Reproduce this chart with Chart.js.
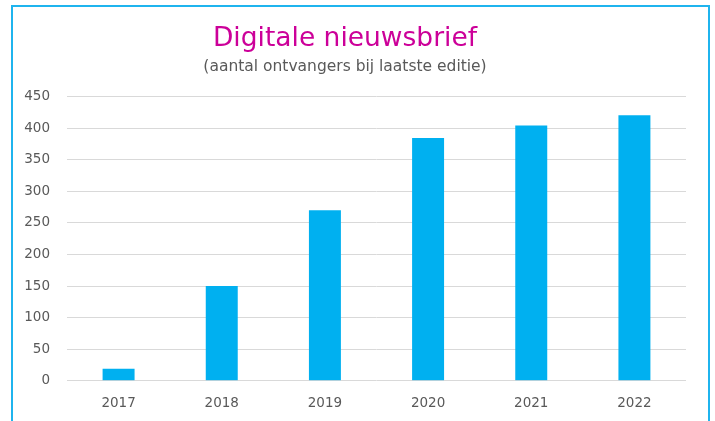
<!DOCTYPE html>
<html>
<head>
<meta charset="utf-8">
<script src="https://cdn.jsdelivr.net/npm/chart.js@4/dist/chart.umd.min.js"></script>
<style>
    body { margin: 0; background: #fff; }
    #wrap { position: relative; width: 715px; height: 421px; overflow: hidden; }
    #frame {
        position: absolute; left: 11px; top: 5px; width: 695px; height: 440px;
        border: 2px solid #1FB4EE; pointer-events: none;
    }
</style>
</head>
<body>
<div id="wrap">
    <canvas id="chart" width="715" height="421"></canvas>
    <div id="frame"></div>
</div>
<script>
/* =========================
   DATA
========================= */

const years = ["2017", "2018", "2019", "2020", "2021", "2022"];
const recipients = [19, 150, 270, 384, 404, 420];

const titleText = "Digitale nieuwsbrief";
const subtitleText = "(aantal ontvangers bij laatste editie)";

/* =========================
   CHART
========================= */

const font = "'DejaVu Sans', Verdana, sans-serif";

new Chart(document.getElementById("chart"), {
    type: "bar",
    data: {
        labels: years,
        datasets: [{
            data: recipients,
            backgroundColor: "#00B0F0",
            borderWidth: 0,
            categoryPercentage: 1,
            barPercentage: 0.31
        }]
    },
    options: {
        responsive: false,
        animation: false,
        layout: { padding: { left: 4, right: 29, top: 0, bottom: 0 } },
        plugins: {
            legend: { display: false },
            tooltip: { enabled: false },
            title: {
                display: true,
                text: titleText,
                color: "#CC0099",
                font: { family: font, size: 26.5, weight: "normal" },
                padding: { top: 23, bottom: 0 }
            },
            subtitle: {
                display: true,
                text: subtitleText,
                color: "#595959",
                font: { family: font, size: 15.5, weight: "normal" },
                padding: { top: 3, bottom: 20 }
            }
        },
        scales: {
            x: {
                grid: { display: false, drawTicks: true, tickLength: 5 },
                border: { display: false },
                ticks: {
                    color: "#595959",
                    font: { family: font, size: 13.5 },
                    padding: 9.5
                }
            },
            y: {
                min: 0,
                max: 450,
                afterFit: scale => { scale.width = 63; },
                grid: { color: "#D9D9D9", lineWidth: 1, drawTicks: false },
                border: { display: false },
                ticks: {
                    stepSize: 50,
                    color: "#595959",
                    font: { family: font, size: 13.5 },
                    padding: 17
                }
            }
        }
    }
});
</script>
</body>
</html>
